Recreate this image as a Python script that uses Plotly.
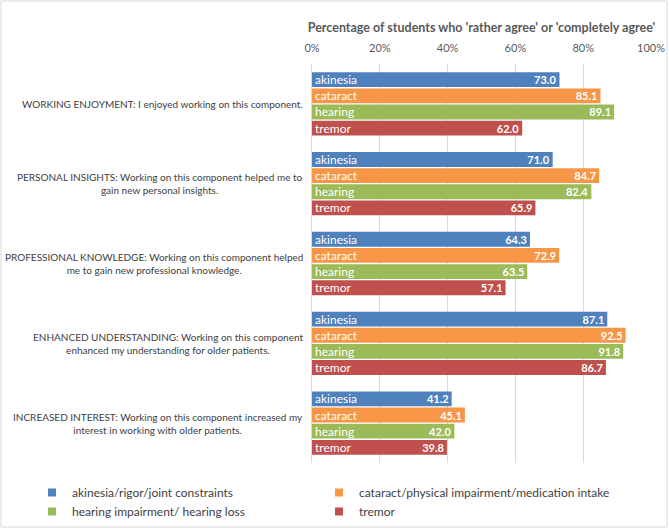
import plotly.graph_objects as go

categories = [
    "WORKING ENJOYMENT: I enjoyed working on this component.",
    "PERSONAL INSIGHTS: Working on this component helped me to<br>gain new personal insights.",
    "PROFESSIONAL KNOWLEDGE: Working on this component helped<br>me to gain new professional knowledge.",
    "ENHANCED UNDERSTANDING: Working on this component<br>enhanced my understanding for older patients.",
    "INCREASED INTEREST: Working on this component increased my<br>interest in working with older patients.",
]
series_short = ["akinesia", "cataract", "hearing", "tremor"]
series_legend = [
    "akinesia/rigor/joint constraints",
    "cataract/physical impairment/medication intake",
    "hearing impairment/ hearing loss",
    "tremor",
]
akinesia = [73.0, 71.0, 64.3, 87.1, 41.2]
cataract = [85.1, 84.7, 72.9, 92.5, 45.1]
hearing = [89.1, 82.4, 63.5, 91.8, 42.0]
tremor = [62.0, 65.9, 57.1, 86.7, 39.8]
values = [akinesia, cataract, hearing, tremor]
colors = ["#4F81BD", "#F79646", "#9BBB59", "#C0504D"]
title_text = "Percentage of students who 'rather agree' or 'completely agree'"

FONT = "Lato"
W, H = 669, 529
ML, MR, MT, MB = 312, 18, 64, 66
PW, PH = W - ML - MR, H - MT - MB

fig = go.Figure()
idx = list(range(len(categories)))

# bars with series name at the bar start
for name, vals, col in zip(series_short, values, colors):
    fig.add_trace(go.Bar(
        y=idx, x=vals, orientation="h", name=name, marker_color=col,
        marker_line_width=0,
        text=[name] * len(vals), textposition="inside", insidetextanchor="start",
        textfont=dict(color="white", size=12, family=FONT),
        showlegend=False, hoverinfo="skip", yaxis="y",
    ))
# transparent overlay bars carrying the value labels at the bar end
for name, vals in zip(series_short, values):
    fig.add_trace(go.Bar(
        y=idx, x=vals, orientation="h", name=name,
        marker_color="rgba(0,0,0,0)", marker_line_width=0,
        texttemplate="<b>%{x:.1f}</b>", textposition="inside", insidetextanchor="end",
        textfont=dict(color="white", size=11, family=FONT),
        showlegend=False, hoverinfo="skip", yaxis="y2",
    ))
# legend entries: two columns -> two legends
legend_ids = ["legend", "legend2", "legend", "legend2"]
for lname, col, lid in zip(series_legend, colors, legend_ids):
    fig.add_trace(go.Scatter(
        x=[None], y=[None], mode="markers", name=lname, legend=lid,
        marker=dict(symbol="square", size=8, color=col), showlegend=True,
    ))

yr = [len(categories) - 0.5, -0.5]
leg_common = dict(orientation="v", yanchor="top", xanchor="left",
                  font=dict(size=12, color="#404040", family=FONT),
                  itemwidth=30, tracegroupgap=0, bgcolor="rgba(0,0,0,0)")
fig.update_layout(
    width=W, height=H,
    margin=dict(l=ML, r=MR, t=MT, b=MB, autoexpand=False),
    paper_bgcolor="white", plot_bgcolor="white",
    font=dict(family=FONT, size=12, color="#595959"),
    barmode="group", bargap=0.19, bargroupgap=0.08,
    uniformtext=dict(minsize=11, mode="show"),
    title=dict(text="<b>" + title_text + "</b>", x=0.5, xref="paper",
               y=1 - 28 / H, yref="container", yanchor="middle",
               xanchor="center", font=dict(size=12.5, color="#595959", family=FONT)),
    xaxis=dict(range=[0, 100], dtick=20, ticksuffix="%", side="top",
               showgrid=True, gridcolor="#D9D9D9", gridwidth=1,
               zeroline=False, showline=False, ticks="", ticklabelstandoff=9,
               tickfont=dict(size=11, color="#595959", family=FONT)),
    yaxis=dict(range=yr, showticklabels=False, showgrid=False, zeroline=False,
               showline=True, linecolor="#D9D9D9", ticks=""),
    yaxis2=dict(range=yr, overlaying="y", visible=False, showgrid=False),
    legend=dict(x=(32 - ML) / PW, y=(MT + PH - 478) / PH, **leg_common),
    legend2=dict(x=(319 - ML) / PW, y=(MT + PH - 478) / PH, **leg_common),
    showlegend=True,
)

for i, cat in enumerate(categories):
    fig.add_annotation(text=cat, x=-7 / PW, xref="paper", y=i, yref="y",
                       xanchor="right", yanchor="middle", align="center",
                       showarrow=False, font=dict(size=10, color="#404040", family=FONT))

fig.add_shape(type="rect", xref="paper", yref="paper",
              x0=(1 - ML) / PW, x1=(W - 2 - ML) / PW,
              y0=-(H - 2 - MT - PH) / PH, y1=(PH + MT - 1) / PH,
              line=dict(color="#D9D9D9", width=1), layer="below")

fig.write_html("out.html", config={"displayModeBar": False},
               post_script="document.body.style.margin='0px';document.body.style.overflow='hidden';")
